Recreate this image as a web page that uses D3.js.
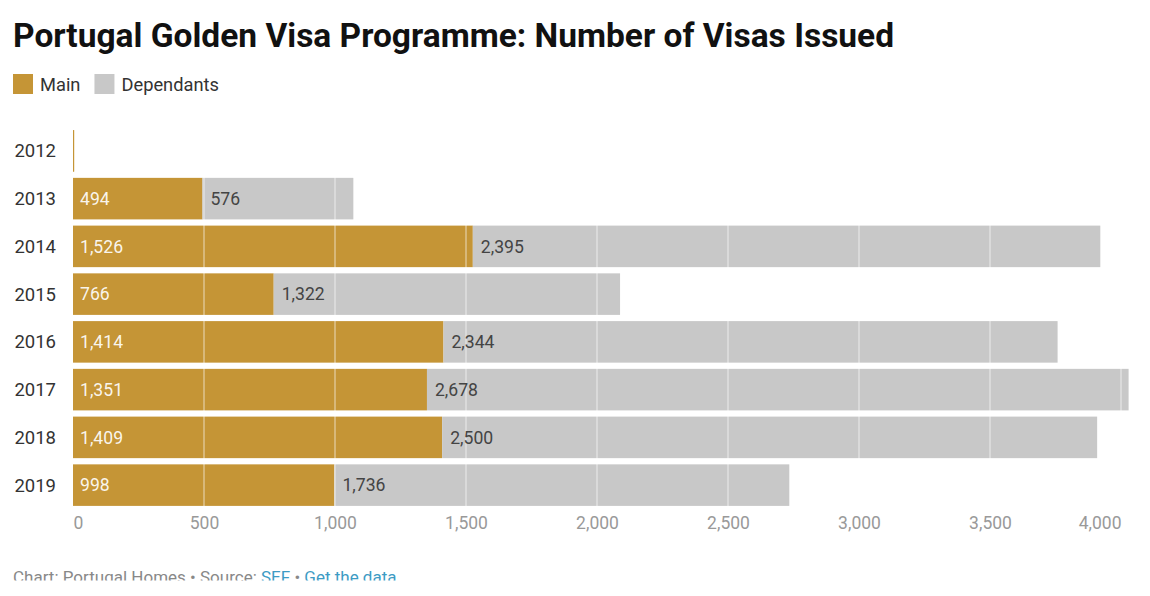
<!DOCTYPE html>
<html><head><meta charset="utf-8">
<script src="https://cdn.jsdelivr.net/npm/d3@7"></script>
<style>
body{margin:0;background:#fff;overflow:hidden}
svg{display:block}
text{font-family:Roboto,"Noto Sans",sans-serif}
</style></head>
<body><svg id="c" width="1150" height="596"></svg>
<script>
const years = ["2012","2013","2014","2015","2016","2017","2018","2019"];
const mainVals = [2,494,1526,766,1414,1351,1409,998];
const depVals = [0,576,2395,1322,2344,2678,2500,1736];
const seriesNames = ["Main","Dependants"];
const colors = ["#c59536","#c8c8c8"];
const xTicks = [0,500,1000,1500,2000,2500,3000,3500,4000];

const svg = d3.select("#c");
svg.append("text").attr("x",13).attr("y",47).attr("font-size",33.5).attr("font-weight",700)
  .attr("fill","#111").text("Portugal Golden Visa Programme: Number of Visas Issued");

// legend
const leg = svg.append("g");
let lx = 13;
seriesNames.forEach((n,i)=>{
  leg.append("rect").attr("x",lx).attr("y",74).attr("width",20).attr("height",20).attr("fill",colors[i]);
  const t = leg.append("text").attr("x",lx+27).attr("y",90.5).attr("font-size",18.3).attr("fill","#333").text(n);
  lx += 27 + t.node().getComputedTextLength() + 14;
});

const x = d3.scaleLinear().domain([0,4000]).range([73,1121]);
const y = d3.scaleBand().domain(years).range([127,509]).paddingInner(0.13).paddingOuter(0.065);

const data = years.map((yr,i)=>({year:yr, main:mainVals[i], dep:depVals[i]}));
const stack = d3.stack().keys(["main","dep"])(data);

const g = svg.append("g");
stack.forEach((s,si)=>{
  g.selectAll(null).data(s).join("rect")
    .attr("x",d=>x(d[0])).attr("y",d=>y(d.data.year))
    .attr("width",d=>Math.max(0,x(d[1])-x(d[0]))).attr("height",y.bandwidth())
    .attr("fill",colors[si]);
});
// 2012 thin line for tiny value
g.selectAll(null).data(data.filter(d=>d.main<10)).join("rect")
  .attr("x",x(0)).attr("y",d=>y(d.year)).attr("width",1.2).attr("height",y.bandwidth()).attr("fill",colors[0]);

// gridlines over bars
g.selectAll(null).data(xTicks.filter(t=>t>0)).join("line")
  .attr("x1",d=>x(d)).attr("x2",d=>x(d)).attr("y1",y.range()[0]).attr("y2",y.range()[1])
  .attr("stroke","#fff").attr("stroke-opacity",0.45).attr("stroke-width",1.5);

// year labels
svg.append("g").selectAll(null).data(years).join("text")
  .attr("x",56).attr("y",d=>y(d)+y.bandwidth()/2).attr("dy","0.35em").attr("text-anchor","end")
  .attr("font-size",18.5).attr("fill","#333").text(d=>d);

const fmt = d3.format(",");
svg.append("g").selectAll(null).data(data.filter(d=>d.main>=10)).join("text")
  .attr("x",d=>x(0)+7).attr("y",d=>y(d.year)+y.bandwidth()/2).attr("dy","0.35em")
  .attr("font-size",17.6).attr("fill","#fff").attr("fill-opacity",0.92).text(d=>fmt(d.main));
svg.append("g").selectAll(null).data(data.filter(d=>d.dep>0)).join("text")
  .attr("x",d=>x(d.main)+8).attr("y",d=>y(d.year)+y.bandwidth()/2).attr("dy","0.35em")
  .attr("font-size",17.6).attr("fill","#444").text(d=>fmt(d.dep));

// x axis
const ax = svg.append("g").attr("transform","translate(0,523)")
  .call(d3.axisBottom(x).tickValues(xTicks).tickFormat(fmt).tickSize(0).tickPadding(0));
ax.select(".domain").remove();
ax.selectAll("text").attr("font-size",17.5).attr("fill","#999").attr("font-family","Roboto").attr("dy","0.35em")
  .attr("text-anchor",(d,i)=> i===0?"start":(i===xTicks.length-1?"end":"middle"));

// footer
const f = svg.append("text").attr("x",13).attr("y",583).attr("font-size",17).attr("fill","#888");
f.append("tspan").text("Chart: Portugal Homes • Source: ");
f.append("tspan").attr("fill","#3d9bc4").text("SEF");
f.append("tspan").text(" • ");
f.append("tspan").attr("fill","#3d9bc4").text("Get the data");
svg.append("rect").attr("x",0).attr("y",580.5).attr("width",1150).attr("height",16).attr("fill","#fff");
</script></body></html>
